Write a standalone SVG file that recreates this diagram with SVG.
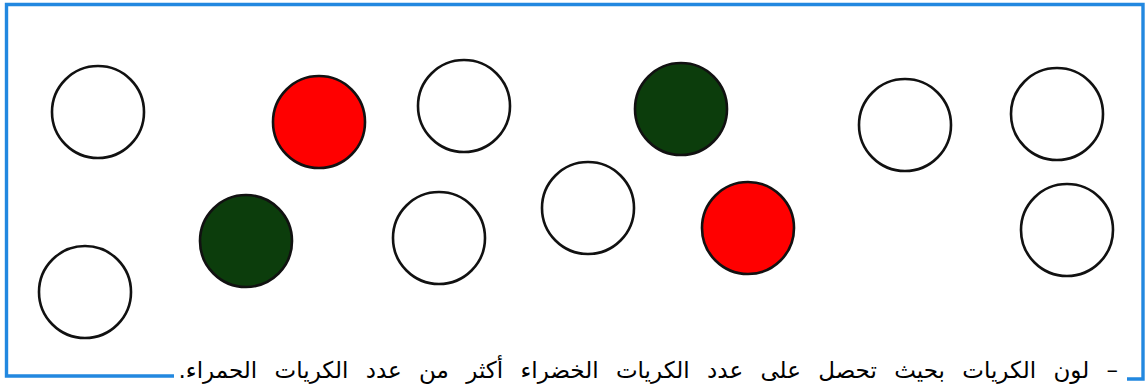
<svg xmlns="http://www.w3.org/2000/svg" width="1147" height="386" viewBox="0 0 1147 386">
<style>
.ball{stroke:#111;stroke-width:2.6}
.w{fill:#fff}
.r{fill:#ff0000}
.g{fill:#0c3d0c}
.frame{fill:none;stroke:#2288e0;stroke-width:3.4}
.t{font-family:"DejaVu Sans","Noto Sans",sans-serif;font-size:23px;word-spacing:10px;fill:#000}
</style>
<rect width="1147" height="386" fill="#fff"/>
<g id="frame">
<path class="frame" d="M174,376 L6.5,376 L6.5,4.5 L1143,4.5 L1143,379 L1127,379"/>
</g>
<g id="balls">
<g id="b1"><circle class="ball w" cx="98" cy="112" r="46"/></g>
<g id="b2"><circle class="ball r" cx="319" cy="122" r="46"/></g>
<g id="b3"><circle class="ball w" cx="464" cy="106" r="46"/></g>
<g id="b4"><circle class="ball g" cx="681" cy="109" r="46"/></g>
<g id="b5"><circle class="ball w" cx="905" cy="125" r="46"/></g>
<g id="b6"><circle class="ball w" cx="1057" cy="114" r="46"/></g>
<g id="b7"><circle class="ball w" cx="85" cy="292" r="46"/></g>
<g id="b8"><circle class="ball g" cx="246" cy="241" r="46"/></g>
<g id="b9"><circle class="ball w" cx="439" cy="238" r="46"/></g>
<g id="b10"><circle class="ball w" cx="588" cy="208" r="46"/></g>
<g id="b11"><circle class="ball r" cx="748" cy="228" r="46"/></g>
<g id="b12"><circle class="ball w" cx="1067" cy="230" r="46"/></g>
</g>
<g id="caption">
<text class="t" x="1118" y="378" direction="rtl" text-anchor="start">– لون الكريات بحيث تحصل على عدد الكريات الخضراء أكثر من عدد الكريات الحمراء.</text>
</g>
</svg>
